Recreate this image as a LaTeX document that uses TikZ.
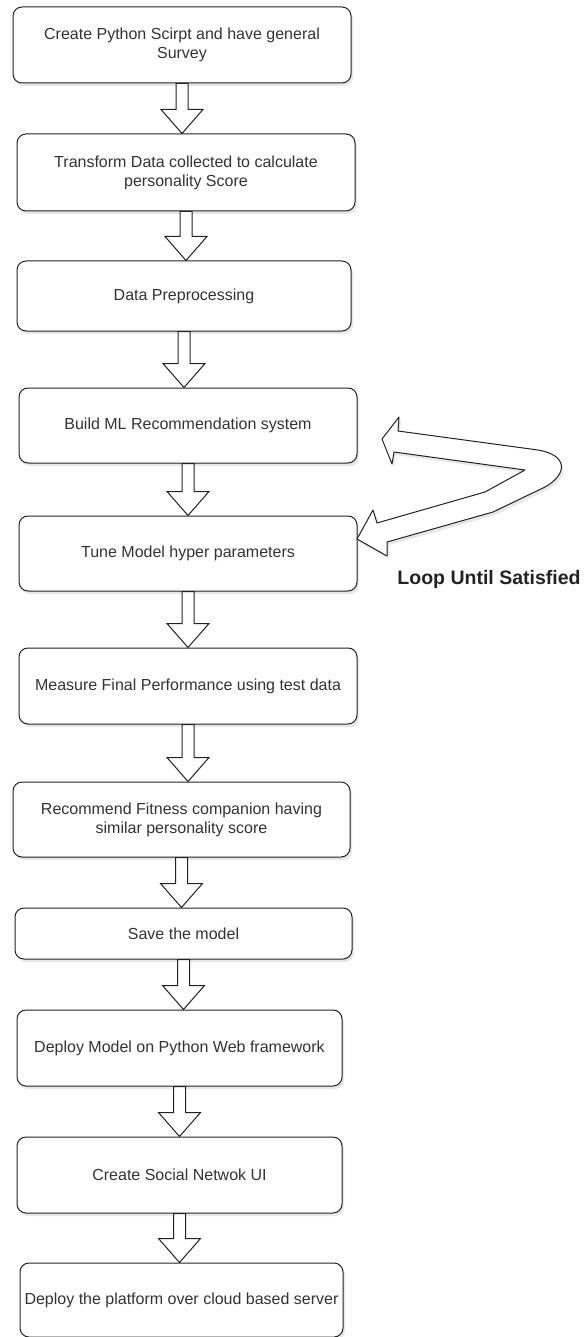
\documentclass[tikz,border=0pt]{standalone}
\usepackage{fontspec}
\setmainfont{Liberation Sans}
\usepackage{tikz}
\usetikzlibrary{calc}
\usetikzlibrary{shadows}
\definecolor{charcoal}{RGB}{34,34,34}
\definecolor{graphite}{RGB}{51,51,51}
\definecolor{smoke}{RGB}{140,140,165}
\tikzset{
    stepbox/.style={draw=charcoal, fill=white, rounded corners=9pt, line width=1pt,
        text=graphite, align=center, inner sep=2pt, font=\fontsize{16}{19}\selectfont,
        drop shadow={shadow xshift=2pt, shadow yshift=-3pt, fill=smoke, opacity=0.22}},
    blockarrow/.style={draw=charcoal, fill=white, line width=1pt, line join=miter,
        to path={let \p1=(\tikztostart), \p2=(\tikztotarget) in
            (\x1-6,\y1) -- (\x1-6,\y2+24) -- (\x1-21,\y2+24) -- (\x1,\y2)
            -- (\x1+21,\y2+24) -- (\x1+6,\y2+24) -- (\x1+6,\y1) -- cycle}},
    loopshape/.style={draw=charcoal, fill=white, line width=1pt, line join=round,
        drop shadow={shadow xshift=2pt, shadow yshift=-3pt, fill=smoke, opacity=0.22}},
    loopnote/.style={text=charcoal, font=\fontsize{19.5}{22}\selectfont\bfseries},
}

\begin{document}
\begin{tikzpicture}[x=1pt, y=-1pt]
\useasboundingbox (0,0) rectangle (586,1337);

\node[stepbox, minimum width=338, minimum height=76] (survey) at (182,45)
    {Create Python Scirpt and have general\\Survey};
\node[stepbox, minimum width=338, minimum height=77] (transform) at (186,172.5)
    {Transform Data collected to calculate\\personality Score};
\node[stepbox, minimum width=334, minimum height=70] (preproc) at (184,296)
    {Data Preprocessing};
\node[stepbox, minimum width=338, minimum height=75] (build) at (188,425.5)
    {Build ML Recommendation system};
\node[stepbox, minimum width=338, minimum height=75] (tune) at (188,553.5)
    {Tune Model hyper parameters};
\node[stepbox, minimum width=338, minimum height=76] (measure) at (188,686)
    {Measure Final Performance using test data};
\node[stepbox, minimum width=337, minimum height=75] (recommend) at (181.5,819.5)
    {Recommend Fitness companion having\\similar personality score};
\node[stepbox, minimum width=337, minimum height=51] (save) at (183.5,933.5)
    {Save the model};
\node[stepbox, minimum width=325, minimum height=76] (deploy) at (179.5,1048)
    {Deploy Model on Python Web framework};
\node[stepbox, minimum width=325, minimum height=76] (social) at (179.5,1175)
    {Create Social Netwok UI};
\node[stepbox, minimum width=323, minimum height=74] (cloud) at (181.5,1300)
    {Deploy the platform over cloud based server};

\draw[blockarrow] (survey.south) to (transform.north);
\draw[blockarrow] (transform.south) to (preproc.north);
\draw[blockarrow] (preproc.south) to (build.north);
\draw[blockarrow] (build.south) to (tune.north);
\draw[blockarrow] (tune.south) to (measure.north);
\draw[blockarrow] (measure.south) to (recommend.north);
\draw[blockarrow] (recommend.south) to (save.north);
\draw[blockarrow] (save.south) to (deploy.north);
\draw[blockarrow] (deploy.south) to (social.north);
\draw[blockarrow] (social.south) to (cloud.north);

\draw[loopshape] (398,431) -- (538,450) .. controls (568,455) and (568,474) .. (545,487)
    -- (493,512) -- (387,542) -- (387,556) -- (357,539) -- (373,510) -- (377,523)
    -- (485,492) -- (525,470) -- (394,452) -- (392,464) -- (382,439) -- (399,417) -- cycle;
\node[loopnote] (loopnote) at (489,579) {Loop Until Satisfied};

\end{tikzpicture}
\end{document}
